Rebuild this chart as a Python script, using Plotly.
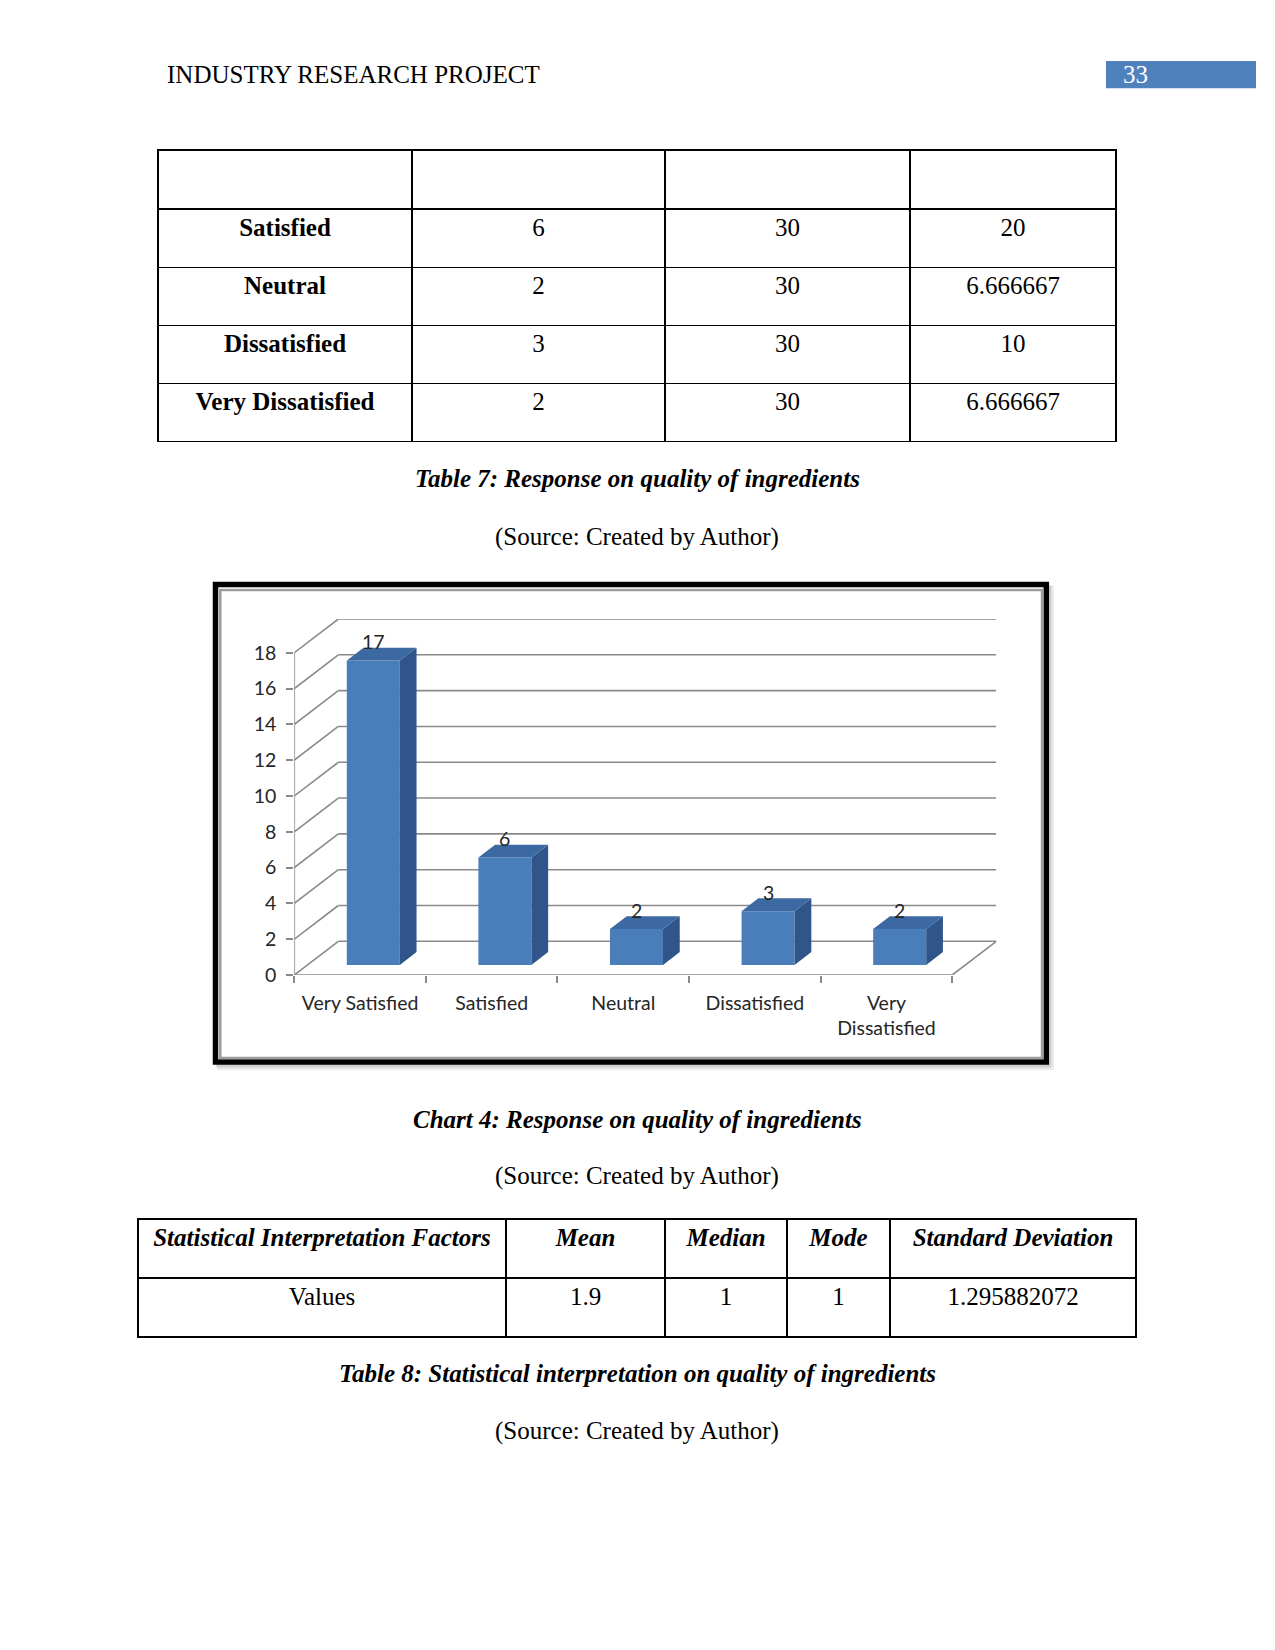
import plotly.graph_objects as go

W, H = 1275, 1650

# ---------------- data ----------------
categories = ["Very Satisfied", "Satisfied", "Neutral", "Dissatisfied", "Very Dissatisfied"]
category_labels = ["Very Satisfied", "Satisfied", "Neutral", "Dissatisfied", "Very<br>Dissatisfied"]
responses = [17, 6, 2, 3, 2]
y_ticks = [0, 2, 4, 6, 8, 10, 12, 14, 16, 18]

t7_labels = ["Satisfied", "Neutral", "Dissatisfied", "Very Dissatisfied"]
t7_counts = ["6", "2", "3", "2"]
t7_totals = ["30", "30", "30", "30"]
t7_percent = ["20", "6.666667", "10", "6.666667"]

t8_headers = ["Statistical Interpretation Factors", "Mean", "Median", "Mode", "Standard Deviation"]
t8_values = ["Values", "1.9", "1", "1", "1.295882072"]

header_title = "INDUSTRY RESEARCH PROJECT"
page_number = "33"
caption_t7 = "Table 7: Response on quality of ingredients"
caption_c4 = "Chart 4: Response on quality of ingredients"
caption_t8 = "Table 8: Statistical interpretation on quality of ingredients"
source_text = "(Source: Created by Author)"

# ---------------- helpers ----------------
def px(x):
    return x / W

def py(y):
    return 1 - y / H

SERIF = "Liberation Serif"
SANS = "Lato"
FRONT = "#4A7EBB"
SIDE = "#30558A"
TOP = "#3C69A2"
GRID = "#8A8A8A"
TXT = "#262626"
CHART_FONT = 19.5

DX = 0.3346   # depth of chart box in x units
DY = 1.882    # depth of chart box in y units
F0 = 0.30     # bar front plane depth fraction
BD = 0.38     # bar depth fraction
BW = 0.403    # bar width (x units)
n = len(categories)

fig = go.Figure()

# ---------------- 3D-style bars ----------------
base = F0 * DY
xc = [i + F0 * DX for i in range(n)]
fig.add_trace(go.Bar(x=xc, y=responses, base=base, width=BW,
                     marker=dict(color=FRONT, line=dict(width=0)),
                     hoverinfo="skip", showlegend=False))

sx, sy, tx, ty = [], [], [], []
for c, v in zip(xc, responses):
    xl, xr = c - BW / 2, c + BW / 2
    ddx, ddy = BD * DX, BD * DY
    sx += [xr, xr + ddx, xr + ddx, xr, xr, None]
    sy += [base, base + ddy, base + v + ddy, base + v, base, None]
    tx += [xl, xr, xr + ddx, xl + ddx, xl, None]
    ty += [base + v, base + v, base + v + ddy, base + v + ddy, base + v, None]
fig.add_trace(go.Scatter(x=sx, y=sy, fill="toself", fillcolor=SIDE, mode="lines",
                         line=dict(width=0, color=SIDE), hoverinfo="skip", showlegend=False))
fig.add_trace(go.Scatter(x=tx, y=ty, fill="toself", fillcolor=TOP, mode="lines",
                         line=dict(width=0, color=TOP), hoverinfo="skip", showlegend=False))
# invisible carrier so the category axis (x2) is drawn
fig.add_trace(go.Scatter(x=list(range(n)), y=[0] * n, xaxis="x2", yaxis="y", mode="markers",
                         marker=dict(opacity=0), hoverinfo="skip", showlegend=False))

annotations = []
for c, v in zip(xc, responses):
    annotations.append(dict(x=c, y=base + v, xref="x", yref="y", text=str(v), showarrow=False,
                            yanchor="middle", yshift=19,
                            font=dict(family=SANS, size=CHART_FONT, color=TXT)))

# ---------------- frame & gridlines (shapes) ----------------
shapes = []
shapes.append(dict(type="rect", xref="paper", yref="paper", layer="below",
                   x0=px(217), x1=px(1054), y0=py(1070), y1=py(586),
                   fillcolor="rgba(0,0,0,0.08)", line=dict(width=0)))
shapes.append(dict(type="rect", xref="paper", yref="paper", layer="below",
                   x0=px(216), x1=px(1051.5), y0=py(1067.5), y1=py(585),
                   fillcolor="rgba(0,0,0,0.12)", line=dict(width=0)))
shapes.append(dict(type="rect", xref="paper", yref="paper", layer="below",
                   x0=px(215.5), x1=px(1046.3), y0=py(1062), y1=py(584.5),
                   fillcolor="white", line=dict(width=5.5, color="black")))
shapes.append(dict(type="rect", xref="paper", yref="paper", layer="below",
                   x0=px(220.3), x1=px(1042), y0=py(1058), y1=py(590),
                   fillcolor="rgba(0,0,0,0)", line=dict(width=2.5, color="#9C9C9C")))

def seg(x0, y0, x1, y1):
    return dict(type="line", xref="x", yref="y", layer="below", x0=x0, y0=y0, x1=x1, y1=y1,
                line=dict(color=GRID, width=1.6))

xmin, xmax = -0.5, n - 0.5
for v in y_ticks:
    shapes.append(seg(xmin, v, xmin + DX, v + DY))
    shapes.append(seg(xmin + DX, v + DY, xmax + DX, v + DY))
shapes.append(seg(xmin, 0, xmin, max(y_ticks)))
shapes.append(seg(xmin, 0, xmax, 0))
shapes.append(seg(xmax, 0, xmax + DX, DY))

# ---------------- tables ----------------
fig.add_trace(go.Table(
    domain=dict(x=[px(158), px(1116)], y=[py(446), py(150)]),
    columnwidth=[254, 253, 245, 206],
    header=dict(values=["", "", "", ""], height=59, fill_color="white",
                line=dict(color="black", width=1.2), font=dict(family=SERIF, size=25, color="black")),
    cells=dict(values=[t7_labels, t7_counts, t7_totals, t7_percent],
               height=58.2, align="center", fill_color="white",
               line=dict(color="black", width=1.2),
               font=dict(family=SERIF, size=25, color="black",
                         weight=["bold", "normal", "normal", "normal"])),
))

fig.add_trace(go.Table(
    domain=dict(x=[px(138), px(1136)], y=[py(1341), py(1219)]),
    columnwidth=[368, 159, 122, 103, 246],
    header=dict(values=t8_headers, height=59, align="center",
                fill_color="white", line=dict(color="black", width=1.2),
                font=dict(family=SERIF, size=25, color="black", weight="bold", style="italic")),
    cells=dict(values=[[s] for s in t8_values], height=59, align="center", fill_color="white",
               line=dict(color="black", width=1.2), font=dict(family=SERIF, size=25, color="black")),
))

# ---------------- page text ----------------
def page_text(text, x, y, xanchor="center", color="black"):
    return dict(x=px(x), y=py(y), xref="paper", yref="paper", text=text, showarrow=False,
                xanchor=xanchor, yanchor="middle", font=dict(family=SERIF, size=25, color=color))

shapes.append(dict(type="rect", xref="paper", yref="paper", x0=px(1106), x1=px(1256),
                   y0=py(88.3), y1=py(61), fillcolor="#4F81BD", line=dict(width=0)))
annotations.append(page_text(header_title, 165, 75, xanchor="left"))
annotations.append(page_text(page_number, 1121, 75, xanchor="left", color="white"))
annotations.append(page_text("<b><i>%s</i></b>" % caption_t7, 637, 479))
annotations.append(page_text(source_text, 637, 537))
annotations.append(page_text("<b><i>%s</i></b>" % caption_c4, 637, 1119))
annotations.append(page_text(source_text, 637, 1176))
annotations.append(page_text("<b><i>%s</i></b>" % caption_t8, 637, 1373))
annotations.append(page_text(source_text, 637, 1431))

# ---------------- layout ----------------
fig.update_layout(
    width=W, height=H, margin=dict(l=0, r=0, t=0, b=0, pad=0, autoexpand=False),
    paper_bgcolor="white", plot_bgcolor="rgba(0,0,0,0)",
    showlegend=False, shapes=shapes, annotations=annotations,
    xaxis=dict(domain=[px(294.3), px(996.3)], range=[xmin, xmax + DX],
               tickvals=[i - 0.5 for i in range(n + 1)], ticks="outside", ticklen=7,
               tickcolor=GRID, tickwidth=1.6, showticklabels=False, automargin=False,
               showgrid=False, zeroline=False, showline=False, fixedrange=True),
    xaxis2=dict(overlaying="x", anchor="y", side="bottom", range=[xmin, xmax + DX],
                tickvals=list(range(n)), ticktext=category_labels, ticks="",
                ticklabelstandoff=14, automargin=False,
                tickfont=dict(family=SANS, size=CHART_FONT, color=TXT),
                showgrid=False, zeroline=False, showline=False, fixedrange=True),
    yaxis=dict(domain=[py(975), py(619)], range=[0, max(y_ticks) + DY],
               tickvals=y_ticks, ticks="outside", ticklen=7, tickcolor=GRID, tickwidth=1.6,
               ticklabelstandoff=6, automargin=False,
               tickfont=dict(family=SANS, size=CHART_FONT, color=TXT),
               showgrid=False, zeroline=False, showline=False, fixedrange=True),
)

fig.write_html("out.html")
